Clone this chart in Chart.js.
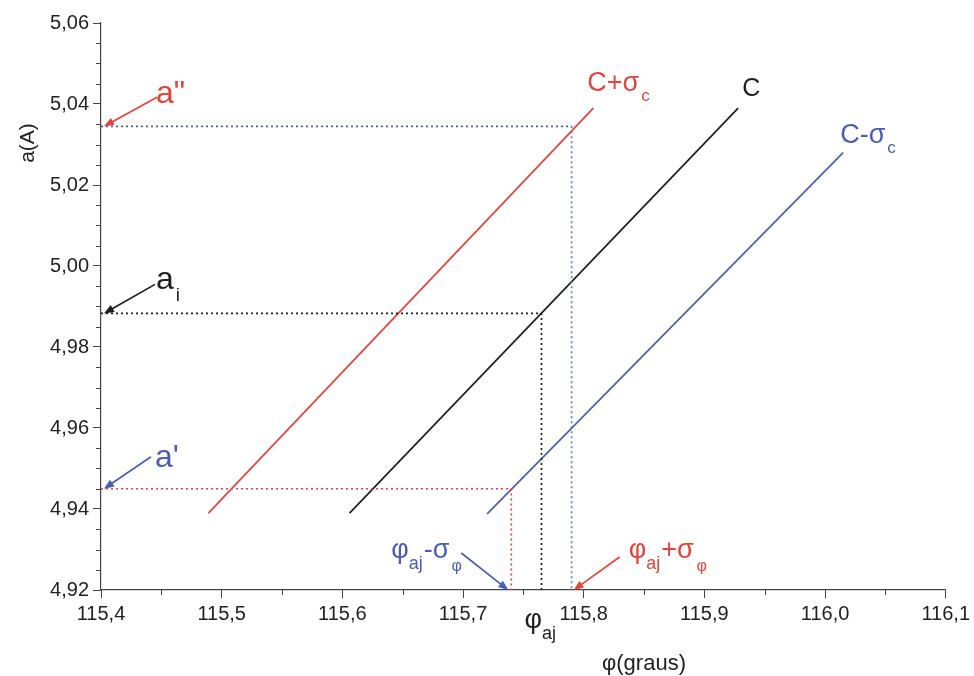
<!DOCTYPE html>
<html>
<head>
<meta charset="utf-8">
<script src="https://cdn.jsdelivr.net/npm/chart.js@4"></script>
<style>
  html, body { margin: 0; padding: 0; background: #ffffff; }
  canvas { display: block; }
</style>
</head>
<body>
<canvas id="chart" width="974" height="676"></canvas>
<script>
// Lattice parameter a versus angle phi for c, c+sigma_c and c-sigma_c
const phiCPlus  = [115.489, 115.808];
const aCPlus    = [4.939, 5.039];
const phiC      = [115.606, 115.928];
const aC        = [4.939, 5.039];
const phiCMinus = [115.720, 116.015];
const aCMinus   = [4.9388, 5.028];

// Projection levels on the a axis and the phi axis
const aDouble    = 5.0345;   // a''
const aFit       = 4.9883;   // a_i
const aSingle    = 4.945;    // a'
const phiAjPlus  = 115.79;
const phiAj      = 115.765;
const phiAjMinus = 115.74;

// Axis ranges and tick steps
const xRange = [115.4, 116.1];
const yRange = [4.92, 5.06];
const xMinorStep = 0.05;
const yMinorStep = 0.005;

const RED = '#e2433b';
const BLACK = '#1e1e1e';
const BLUE = '#4a5db4';
const FONT = '"Liberation Sans", Arial, sans-serif';

const toPoints = (xs, ys) => xs.map((v, i) => ({ x: v, y: ys[i] }));
const isMajorX = v => Math.round(v * 100) % 10 === 0;
const isMajorY = v => Math.round(v * 1000) % 20 === 0;

function lineSet(data, color, width, dash) {
  return {
    data, borderColor: color, borderWidth: width, borderDash: dash || [],
    showLine: true, pointRadius: 0, tension: 0, fill: false
  };
}

const datasets = [
  lineSet(toPoints([xRange[0], phiAjPlus], [aDouble, aDouble]), BLUE, 1.7, [2, 3]),
  lineSet(toPoints([phiAjPlus, phiAjPlus], [aDouble, yRange[0]]), '#4f86b8', 1.7, [2, 3]),
  lineSet(toPoints([xRange[0], phiAj, phiAj], [aFit, aFit, yRange[0]]), BLACK, 1.7, [2, 3]),
  lineSet(toPoints([xRange[0], phiAjMinus, phiAjMinus], [aSingle, aSingle, yRange[0]]), RED, 1.7, [2, 3]),
  lineSet(toPoints(phiCPlus, aCPlus), RED, 1.7),
  lineSet(toPoints(phiC, aC), BLACK, 1.7),
  lineSet(toPoints(phiCMinus, aCMinus), BLUE, 1.7)
];

function arrow(ctx, x1, y1, x2, y2, color) {
  const ang = Math.atan2(y2 - y1, x2 - x1);
  const len = 10, half = 4;
  ctx.strokeStyle = color; ctx.fillStyle = color; ctx.lineWidth = 1.7;
  ctx.beginPath();
  ctx.moveTo(x1, y1);
  ctx.lineTo(x2 - Math.cos(ang) * len * 0.8, y2 - Math.sin(ang) * len * 0.8);
  ctx.stroke();
  ctx.beginPath();
  ctx.moveTo(x2, y2);
  ctx.lineTo(x2 - Math.cos(ang) * len - Math.sin(ang) * half, y2 - Math.sin(ang) * len + Math.cos(ang) * half);
  ctx.lineTo(x2 - Math.cos(ang) * len + Math.sin(ang) * half, y2 - Math.sin(ang) * len - Math.cos(ang) * half);
  ctx.closePath();
  ctx.fill();
}

// Draws a run of text pieces, each with its own size and vertical shift
function rich(ctx, x, baseline, parts, color) {
  ctx.fillStyle = color;
  ctx.textBaseline = 'alphabetic';
  ctx.textAlign = 'left';
  let cx = x;
  parts.forEach(p => {
    ctx.font = p.s + 'px ' + FONT;
    ctx.fillText(p.t, cx, baseline + (p.dy || 0));
    cx += ctx.measureText(p.t).width + (p.gap || 0);
  });
}

const annotations = {
  id: 'annotations',
  afterDatasetsDraw(chart) {
    const { ctx, chartArea: ca, scales: { x, y } } = chart;
    ctx.save();

    // minor tick marks
    ctx.strokeStyle = '#444'; ctx.lineWidth = 1;
    y.ticks.forEach(t => {
      if (isMajorY(t.value)) return;
      const py = Math.round(y.getPixelForValue(t.value)) + 0.5;
      ctx.beginPath(); ctx.moveTo(ca.left - 5, py); ctx.lineTo(ca.left, py); ctx.stroke();
    });
    x.ticks.forEach(t => {
      if (isMajorX(t.value)) return;
      const px = Math.round(x.getPixelForValue(t.value)) + 0.5;
      ctx.beginPath(); ctx.moveTo(px, ca.bottom); ctx.lineTo(px, ca.bottom + 5); ctx.stroke();
    });

    // labels on the a axis
    let py = y.getPixelForValue(aDouble);
    arrow(ctx, ca.left + 56, py - 29, ca.left + 3, py, RED);
    rich(ctx, ca.left + 55, py - 23, [{ t: 'a"', s: 32 }], RED);

    py = y.getPixelForValue(aFit);
    arrow(ctx, ca.left + 54, py - 29, ca.left + 3, py, BLACK);
    rich(ctx, ca.left + 55, py - 24, [{ t: 'a', s: 32, gap: 2 }, { t: 'i', s: 19, dy: 12 }], BLACK);

    py = y.getPixelForValue(aSingle);
    arrow(ctx, ca.left + 50, py - 32, ca.left + 3, py, BLUE);
    rich(ctx, ca.left + 54, py - 22, [{ t: "a'", s: 32 }], BLUE);

    // labels on the phi axis
    let px = x.getPixelForValue(phiAjMinus);
    arrow(ctx, px - 50, ca.bottom - 37, px - 3, ca.bottom, BLUE);
    rich(ctx, px - 120, ca.bottom - 32, [
      { t: 'φ', s: 27 }, { t: 'aj', s: 18, dy: 11, gap: 1 }, { t: '-σ', s: 27, gap: 2 }, { t: 'φ', s: 16, dy: 13 }
    ], BLUE);

    px = x.getPixelForValue(phiAjPlus);
    arrow(ctx, px + 48, ca.bottom - 33, px + 2, ca.bottom, RED);
    rich(ctx, px + 57, ca.bottom - 32, [
      { t: 'φ', s: 27 }, { t: 'aj', s: 18, dy: 11, gap: 1 }, { t: '+σ', s: 27, gap: 3 }, { t: 'φ', s: 16, dy: 13 }
    ], RED);

    px = x.getPixelForValue(phiAj);
    rich(ctx, px - 17, ca.bottom + 38, [{ t: 'φ', s: 27 }, { t: 'aj', s: 18, dy: 11 }], BLACK);

    // series labels at the upper ends of the lines
    let ex = x.getPixelForValue(phiCPlus[1]), ey = y.getPixelForValue(aCPlus[1]);
    rich(ctx, ex - 6, ey - 17, [{ t: 'C', s: 27 }, { t: '+σ', s: 27, gap: 2 }, { t: 'c', s: 17, dy: 10 }], RED);
    ex = x.getPixelForValue(phiC[1]); ey = y.getPixelForValue(aC[1]);
    rich(ctx, ex + 4, ey - 12, [{ t: 'C', s: 25 }], BLACK);
    ex = x.getPixelForValue(phiCMinus[1]); ey = y.getPixelForValue(aCMinus[1]);
    rich(ctx, ex - 3, ey - 10, [{ t: 'C', s: 27 }, { t: '-σ', s: 27, gap: 2 }, { t: 'c', s: 17, dy: 10 }], BLUE);

    // axis titles
    ctx.fillStyle = '#222';
    ctx.font = '22px ' + FONT;
    ctx.textAlign = 'center';
    ctx.textBaseline = 'middle';
    ctx.fillText('φ(graus)', 644, 664);
    ctx.translate(28, 143);
    ctx.rotate(-Math.PI / 2);
    ctx.font = '21px ' + FONT;
    ctx.fillText('a(A)', 0, 0);

    ctx.restore();
  }
};

new Chart(document.getElementById('chart'), {
  type: 'scatter',
  data: { datasets },
  options: {
    responsive: false,
    animation: false,
    devicePixelRatio: 1,
    layout: { padding: { top: 23, right: 28, left: 0, bottom: 0 } },
    plugins: { legend: { display: false }, tooltip: { enabled: false } },
    scales: {
      x: {
        type: 'linear', min: xRange[0], max: xRange[1],
        afterFit: s => { s.height = 86; },
        border: { display: true, color: '#444', width: 1.2 },
        grid: {
          drawOnChartArea: false, drawTicks: true, tickLength: 8,
          tickColor: c => (c.tick && isMajorX(c.tick.value)) ? '#444' : 'rgba(0,0,0,0)'
        },
        ticks: {
          stepSize: xMinorStep, autoSkip: false, maxRotation: 0, padding: 4,
          color: '#222', font: { family: FONT, size: 20 },
          callback: v => isMajorX(v) ? v.toFixed(1).replace('.', ',') : ''
        }
      },
      y: {
        type: 'linear', min: yRange[0], max: yRange[1],
        afterFit: s => { s.width = 101; },
        border: { display: true, color: '#444', width: 1.2 },
        grid: {
          drawOnChartArea: false, drawTicks: true, tickLength: 8,
          tickColor: c => (c.tick && isMajorY(c.tick.value)) ? '#444' : 'rgba(0,0,0,0)'
        },
        ticks: {
          stepSize: yMinorStep, autoSkip: false, padding: 4,
          color: '#222', font: { family: FONT, size: 20 },
          callback: v => isMajorY(v) ? v.toFixed(2).replace('.', ',') : ''
        }
      }
    }
  },
  plugins: [annotations]
});
</script>
</body>
</html>
